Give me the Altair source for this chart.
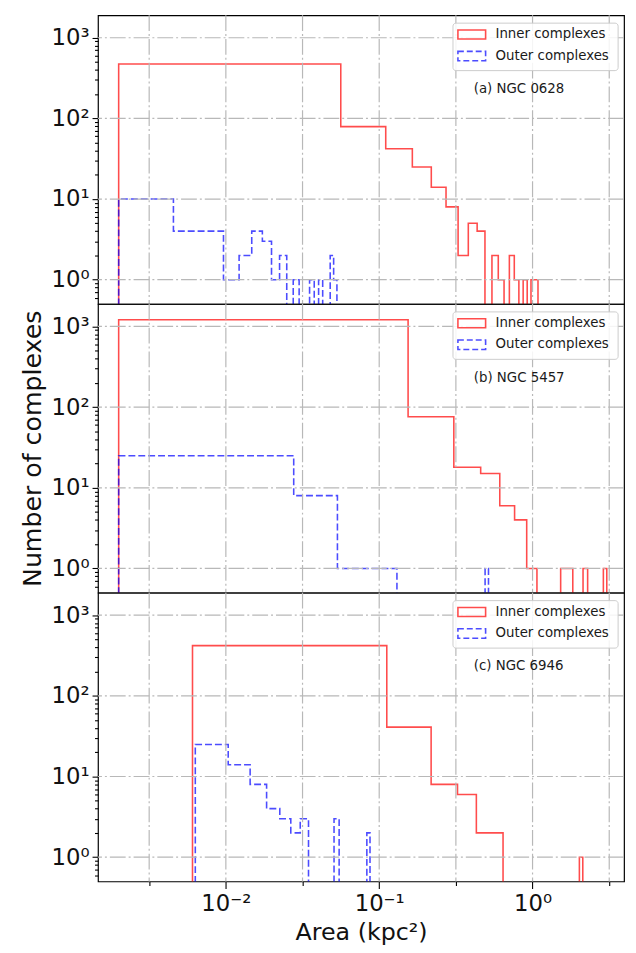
import altair as alt
import numpy as np
import pandas as pd

# ---------------- data ----------------
panel_labels = ["(a) NGC 0628", "(b) NGC 5457", "(c) NGC 6946"]
legend_labels = ["Inner complexes", "Outer complexes"]

# (min, max) area in kpc^2 of each sample; 20 equal-width bins each
inner_ranges = [(0.002, 1.085), (0.002, 3.048), (0.00606, 2.126)]
outer_ranges = [(0.002, 0.053), (0.002, 0.516), (0.00632, 0.0871)]

inner_counts = [
    [472, 79, 42, 25, 14, 8, 2, 5, 4, 0, 2, 1, 0, 2, 1, 0, 1, 0, 1, 1],
    [1210, 76, 18, 15, 6, 4, 1, 0, 0, 0, 1, 1, 0, 0, 1, 0, 0, 0, 0, 1],
    [420, 41, 8, 6, 2, 2, 0, 0, 0, 0, 0, 0, 0, 0, 0, 0, 0, 0, 0, 1],
]
outer_counts = [
    [10, 4, 4, 1, 2, 4, 3, 1, 2, 0, 1, 0, 0, 1, 0, 1, 0, 0, 2, 1],
    [25, 8, 1, 1, 1, 0, 0, 0, 0, 0, 0, 0, 0, 0, 0, 0, 0, 0, 0, 1],
    [25, 14, 8, 4, 3, 2, 3, 0, 0, 0, 0, 3, 0, 0, 0, 0, 0, 0, 0, 2],
]

x_major = [0.01, 0.1, 1.0]
x_major_labels = ["10\u207b\u00b2", "10\u207b\u00b9", "10\u2070"]
x_minor = [10 ** -2.5, 10 ** -1.5, 10 ** -0.5, 10 ** 0.5]
y_major = [1.0, 10.0, 100.0, 1000.0]
y_major_labels = ["10\u2070", "10\u00b9", "10\u00b2", "10\u00b3"]

X_DOMAIN = [0.001466, 3.95]
Y_DOMAIN = [0.5, 1900]
FLOOR = 0.05  # zero counts drawn below the axis (clipped), like matplotlib's log step

FONT = "DejaVu Sans"
GRID = dict(color="#b8b8b8", strokeDash=[16, 3, 2, 3], strokeWidth=1.2)


def step_df(rng, counts):
    edges = np.linspace(rng[0], rng[1], len(counts) + 1)
    xs = [edges[0]] + list(edges[:-1]) + [edges[-1]]
    ys = [FLOOR] + [c if c > 0 else FLOOR for c in counts] + [FLOOR]
    return pd.DataFrame({"x": xs, "y": ys, "i": list(range(len(xs)))})


def label_expr(vals, labels):
    expr = "''"
    for v, l in zip(reversed(vals), reversed(labels)):
        expr = f"datum.value == {v} ? '{l}' : " + expr
    return expr


x_ticks = sorted(x_major + x_minor)
x_test = "indexof([" + ",".join(str(v) for v in x_major) + "], datum.value) >= 0"
y_minor = [m * 10.0 ** e for e in range(-1, 4) for m in range(2, 10)
           if Y_DOMAIN[0] < m * 10.0 ** e <= Y_DOMAIN[1]]
y_ticks = sorted(y_major + y_minor)
y_test = "indexof([" + ",".join(str(v) for v in y_major) + "], datum.value) >= 0"

xscale = alt.Scale(type="log", domain=X_DOMAIN)
yscale = alt.Scale(type="log", domain=Y_DOMAIN)


def panel(p):
    bottom = p == 2
    if bottom:
        xaxis = alt.Axis(values=x_ticks, labelExpr=label_expr(x_major, x_major_labels),
                         tickSize={"condition": {"test": x_test, "value": 7}, "value": 4},
                         grid=False, domain=False, labelOverlap=False, labelFlush=False,
                         labelPadding=4, title="Area (kpc\u00b2)", titlePadding=6)
    else:
        xaxis = alt.Axis(values=x_ticks, grid=False, labels=False, ticks=False,
                         domain=False, title=None)
    yaxis = alt.Axis(values=y_ticks, labelExpr=label_expr(y_major, y_major_labels),
                     tickSize={"condition": {"test": y_test, "value": 6}, "value": 3.5},
                     grid=False, domain=False, labelOverlap=False, labelFlush=False,
                     labelPadding=3,
                     title="Number of complexes" if p == 1 else None, titlePadding=6,
                     titleFontSize=25.5)

    inner = alt.Chart(step_df(inner_ranges[p], inner_counts[p])).mark_line(
        interpolate="step-after", color="red", strokeOpacity=0.7, strokeWidth=1.6, clip=True
    ).encode(
        x=alt.X("x:Q", scale=xscale, axis=xaxis),
        y=alt.Y("y:Q", scale=yscale, axis=yaxis),
        order=alt.Order("i:Q"),
    )
    outer = alt.Chart(step_df(outer_ranges[p], outer_counts[p])).mark_line(
        interpolate="step-after", color="blue", strokeOpacity=0.7, strokeWidth=1.6,
        strokeDash=[7, 3], clip=True
    ).encode(
        x=alt.X("x:Q", scale=xscale),
        y=alt.Y("y:Q", scale=yscale),
        order=alt.Order("i:Q"),
    )

    # grid drawn above the step outlines (as matplotlib does for patches)
    grid_x = alt.Chart(pd.DataFrame({"x": x_ticks})).mark_rule(**GRID).encode(
        x=alt.X("x:Q", scale=xscale)
    )
    grid_y = alt.Chart(pd.DataFrame({"y": y_major})).mark_rule(**GRID).encode(
        y=alt.Y("y:Q", scale=yscale)
    )

    box = alt.Chart(pd.DataFrame({"k": [0]})).mark_rect(
        fill="white", fillOpacity=0.85, stroke="#cccccc", strokeWidth=1, cornerRadius=3
    ).encode(x=alt.value(359), x2=alt.value(526), y=alt.value(8), y2=alt.value(56))
    sw_in = alt.Chart(pd.DataFrame({"k": [0]})).mark_rect(
        fillOpacity=0, stroke="red", strokeOpacity=0.7, strokeWidth=1.6
    ).encode(x=alt.value(364), x2=alt.value(392), y=alt.value(15), y2=alt.value(24))
    sw_out = alt.Chart(pd.DataFrame({"k": [0]})).mark_rect(
        fillOpacity=0, stroke="blue", strokeOpacity=0.7, strokeWidth=1.6, strokeDash=[6, 3]
    ).encode(x=alt.value(364), x2=alt.value(392), y=alt.value(36.5), y2=alt.value(46))

    def txt(label, x, y):
        return alt.Chart(pd.DataFrame({"t": [label]})).mark_text(
            align="left", baseline="middle", font=FONT, fontSize=13.5, color="#1a1a1a"
        ).encode(text="t:N", x=alt.value(x), y=alt.value(y))

    t1 = txt(legend_labels[0], 402, 19.5)
    t2 = txt(legend_labels[1], 402, 41)
    t3 = txt(panel_labels[p], 380, 74.5)

    return alt.layer(inner, outer, grid_x, grid_y, box, sw_in, sw_out, t1, t2, t3).properties(
        width=532, height=292
    )


chart = alt.vconcat(panel(0), panel(1), panel(2), spacing=0, bounds="flush").properties(
    padding={"left": 11, "top": 0, "right": 2, "bottom": 0}
).configure_view(
    stroke="black", strokeWidth=1.2
).configure_axis(
    labelFont=FONT, labelFontSize=23, labelColor="#111111",
    titleFont=FONT, titleFontSize=24, titleFontWeight="normal", titleColor="#111111",
    tickColor="black", tickWidth=1.1,
)

chart.save("out.html", embed_options={"renderer": "svg", "actions": False})
